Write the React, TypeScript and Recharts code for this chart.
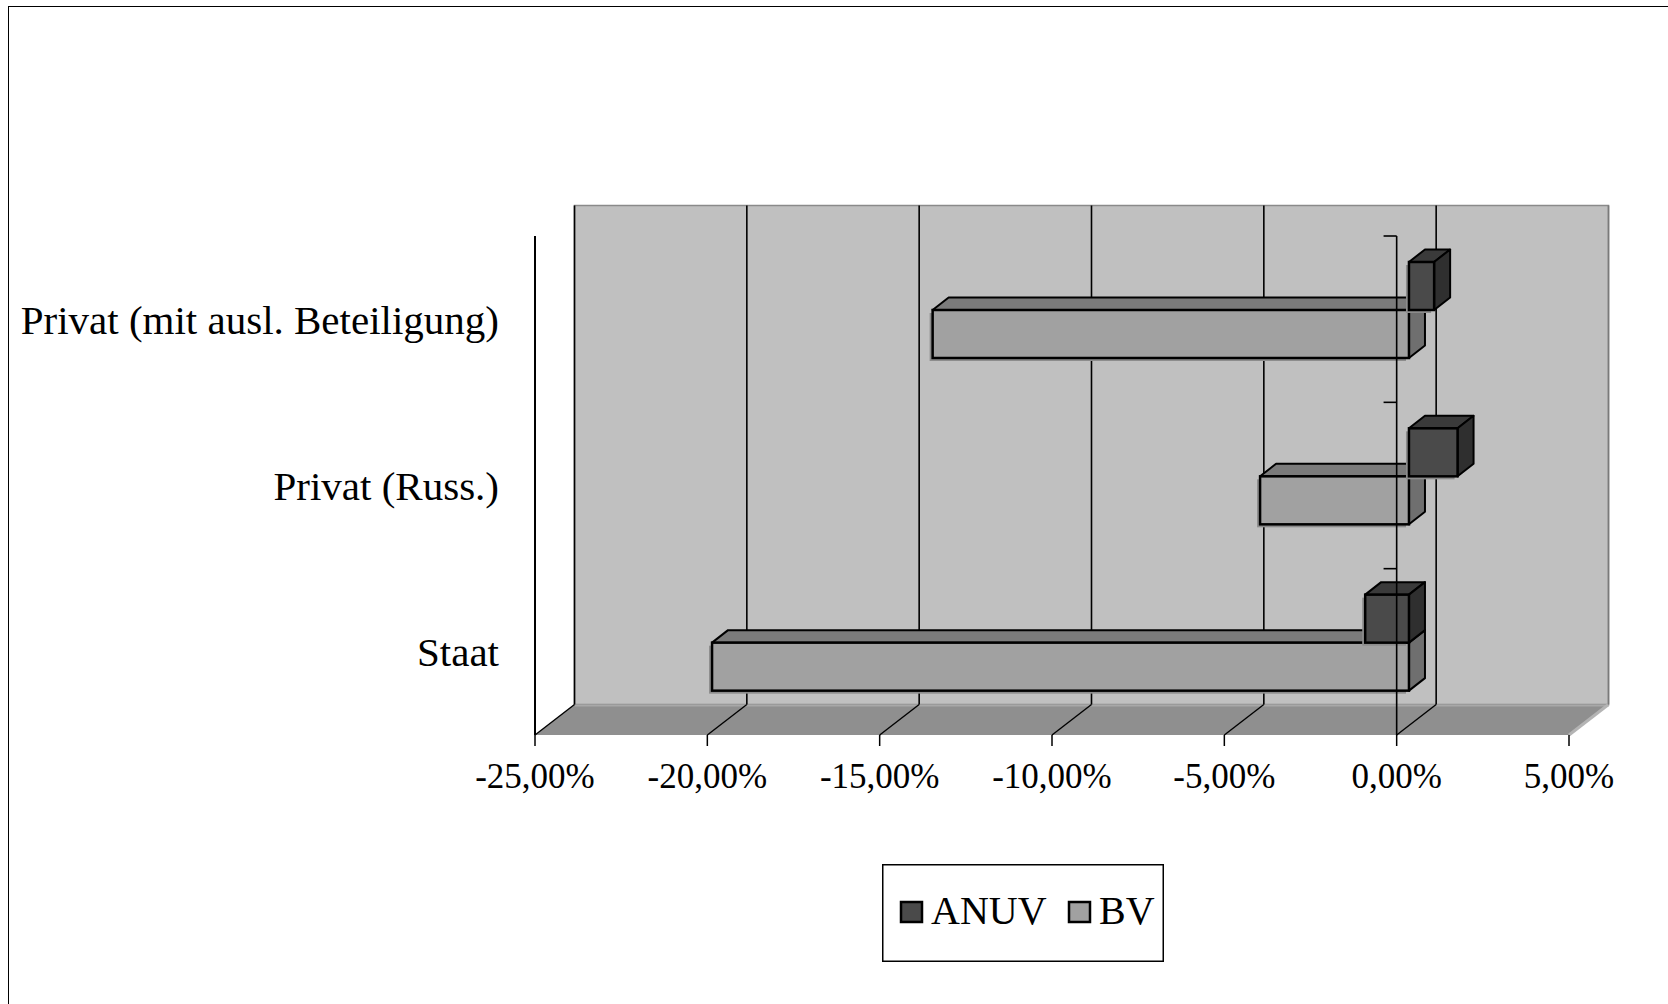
import React from "react";
import { BarChart, Bar, XAxis, YAxis, ReferenceArea, ReferenceLine, Legend } from "recharts";

// ---- data ----
const categories = ["Privat (mit ausl. Beteiligung)", "Privat (Russ.)", "Staat"];
const anuvValues = [0.0073, 0.0141, -0.0127];
const bvValues = [-0.1382, -0.0432, -0.2022];
const xTicks = [-0.25, -0.2, -0.15, -0.1, -0.05, 0, 0.05];
const seriesNames = ["ANUV", "BV"];

const data = categories.map((cat, i) => ({ cat, ANUV: anuvValues[i], BV: bvValues[i] }));

// ---- styles ----
const FONT = '"Liberation Serif", "Times New Roman", Times, serif';
const WALL_DX = 39.5;
const WALL_DY = -30.5;
const BAR_OX = 12.3;
const BAR_OY = -9.6;
const BAR_DX = 16;
const BAR_DY = -12.5;

const COLORS: Record<string, { front: string; top: string; side: string }> = {
  ANUV: { front: "#4a4a4a", top: "#3a3a3a", side: "#2f2f2f" },
  BV: { front: "#a1a1a1", top: "#7b7b7b", side: "#6f6f6f" },
};

const fmt = (v: number) => (v * 100).toFixed(2).replace(".", ",") + "%";
const pts = (arr: number[][]) => arr.map((p) => p.join(",")).join(" ");

const makeBarShape = (c: { front: string; top: string; side: string }) => (props: any) => {
  const { x, y, width, height } = props;
  if (x == null || y == null) return <g />;
  const xa = Math.min(x, x + width) + BAR_OX;
  const xb = Math.max(x, x + width) + BAR_OX;
  const ya = Math.min(y, y + height) + BAR_OY;
  const yb = Math.max(y, y + height) + BAR_OY;
  return (
    <g>
      <rect x={xa - 3} y={ya + 3} width={xb - xa} height={yb - ya} fill="#8c8c8c" />
      <polygon
        points={pts([[xa, ya], [xb, ya], [xb + BAR_DX, ya + BAR_DY], [xa + BAR_DX, ya + BAR_DY]])}
        fill={c.top}
        stroke="#000"
        strokeWidth={2}
        strokeLinejoin="round"
      />
      <polygon
        points={pts([[xb, ya], [xb + BAR_DX, ya + BAR_DY], [xb + BAR_DX, yb + BAR_DY], [xb, yb]])}
        fill={c.side}
        stroke="#000"
        strokeWidth={2}
        strokeLinejoin="round"
      />
      <rect x={xa} y={ya} width={xb - xa} height={yb - ya} fill={c.front} stroke="#000" strokeWidth={2.5} />
    </g>
  );
};

const WallShape = (props: any) => {
  const { x, y, width, height } = props;
  const L = x, R = x + width, T = y, B = y + height;
  return (
    <g>
      <polygon
        points={pts([[L + WALL_DX, T + WALL_DY], [R + WALL_DX, T + WALL_DY], [R + WALL_DX, B + WALL_DY], [L + WALL_DX, B + WALL_DY]])}
        fill="#c0c0c0"
        stroke="#8a8a8a"
        strokeWidth={1.5}
      />
      <polygon
        points={pts([[L, B], [R, B], [R + WALL_DX, B + WALL_DY], [L + WALL_DX, B + WALL_DY]])}
        fill="#8f8f8f"
      />
      <line x1={L + WALL_DX} y1={B + WALL_DY + 1} x2={R + WALL_DX} y2={B + WALL_DY + 1} stroke="#a8a8a8" strokeWidth={2} />
      <line x1={R + WALL_DX} y1={B + WALL_DY} x2={R} y2={B} stroke="#b4b4b4" strokeWidth={3} />
    </g>
  );
};

const makeGridShape = (isEdge: boolean) => (props: any) => {
  const { x1, y1, x2, y2 } = props;
  if (x1 == null) return <g />;
  const top = Math.min(y1, y2);
  const bottom = Math.max(y1, y2);
  return (
    <g>
      <line x1={x1 + WALL_DX} y1={top + WALL_DY} x2={x1 + WALL_DX} y2={bottom + WALL_DY} stroke={isEdge ? "#7a7a7a" : "#000"} strokeWidth={1.6} />
      {!isEdge && <line x1={x1 + WALL_DX} y1={bottom + WALL_DY} x2={x1} y2={bottom} stroke="#000" strokeWidth={1.4} />}
    </g>
  );
};

const renderLegend = () => (
  <svg width={282} height={98} style={{ display: "block" }}>
    <rect x={0.75} y={0.75} width={280.5} height={96.5} fill="#fff" stroke="#000" strokeWidth={1.5} />
    {seriesNames.map((name, i) => {
      const sx = i === 0 ? 18 : 186;
      return (
        <g key={name}>
          <rect x={sx + 1} y={38} width={21} height={20} fill={COLORS[name].front} stroke="#000" strokeWidth={2.5} />
          <text x={sx + 31} y={60} fontFamily={FONT} fontSize={40} fill="#000">
            {name}
          </text>
        </g>
      );
    })}
  </svg>
);

export default function App() {
  return (
    <div style={{ position: "absolute", left: 0, top: 0, width: 1668, height: 1004, background: "#fff", overflow: "hidden" }}>
      <div
        style={{
          position: "absolute",
          left: 8,
          top: 6,
          width: 1700,
          height: 1100,
          border: "1.5px solid #000",
          boxSizing: "border-box",
        }}
      />
      <div style={{ position: "absolute", left: 0, top: 0 }}>
        <BarChart
          width={1668}
          height={1004}
          data={data}
          layout="vertical"
          margin={{ top: 236, right: 99, bottom: 209, left: 35 }}
          barCategoryGap="21.4%"
          barGap={0}
        >
          <ReferenceArea x1={-0.25} x2={0.05} shape={WallShape} ifOverflow="visible" zIndex={-300} />
          {xTicks.map((v, i) => (
            <ReferenceLine
              key={"g" + v}
              x={v}
              ifOverflow="visible"
              shape={makeGridShape(i === xTicks.length - 1)}
              zIndex={-250}
            />
          ))}
          <XAxis
            type="number"
            domain={[-0.25, 0.05]}
            ticks={xTicks}
            interval={0}
            allowDataOverflow
            tickFormatter={fmt}
            axisLine={false}
            tickLine={{ stroke: "#000", strokeWidth: 1.5 }}
            tickSize={11}
            tickMargin={17}
            height={60}
            tick={{ fill: "#000", fontSize: 35, fontFamily: FONT }}
          />
          <YAxis
            type="category"
            dataKey="cat"
            width={500}
            interval={0}
            tickLine={false}
            tickSize={0}
            tickMargin={36}
            axisLine={{ stroke: "#000", strokeWidth: 2 }}
            tick={{ fill: "#000", fontSize: 41, fontFamily: FONT }}
          />
          <Bar dataKey="ANUV" name="ANUV" isAnimationActive={false} shape={makeBarShape(COLORS.ANUV)} zIndex={320} />
          <Bar dataKey="BV" name="BV" isAnimationActive={false} shape={makeBarShape(COLORS.BV)} zIndex={310} />
          <ReferenceLine x={0} stroke="#000" strokeWidth={1.6} zIndex={600} />
          {categories.map((c) => (
            <ReferenceLine
              key={"t" + c}
              position="start"
              segment={[{ x: -0.0038, y: c }, { x: 0, y: c }]}
              stroke="#000"
              strokeWidth={1.6}
              ifOverflow="visible"
              zIndex={600}
            />
          ))}
          <Legend
            layout="horizontal"
            verticalAlign="middle"
            align="center"
            content={renderLegend}
            wrapperStyle={{ position: "absolute", left: 882, top: 864, width: 282, height: 98 }}
          />
        </BarChart>
      </div>
    </div>
  );
}
